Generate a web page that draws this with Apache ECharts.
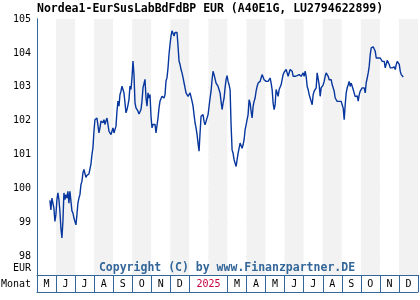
<!DOCTYPE html>
<html><head><meta charset="utf-8">
<script src="https://cdn.jsdelivr.net/npm/echarts@6/dist/echarts.min.js"></script>
<style>html,body{margin:0;padding:0;background:#fff}#c{width:420px;height:300px}</style>
</head><body><div id="c"></div>
<script>
const chartTitle = 'Nordea1-EurSusLabBdFdBP EUR (A40E1G, LU2794622899)';
const copyrightText = 'Copyright (C) by www.Finanzpartner.DE';
const currencyLabel = 'EUR';
const xAxisTitle = 'Monat';
// month label row, starting May 2024 (2025 spans Jan+Feb)
const monthLabels = ['M','J','J','A','S','O','N','D','2025','M','A','M','J','J','A','S','O','N','D'];
const monthSpans  = [1,1,1,1,1,1,1,1,2,1,1,1,1,1,1,1,1,1,1];
const yTicks = [98,99,100,101,102,103,104,105];
const yMin = 97.45, yMax = 105;
// price samples, evenly spaced in time from startDate to endDate
const startDate = '2024-05-22';
const endDate = '2025-12-08';
const prices = [
99.65,99.37,99.72,99.77,99.42,99.03,99.23,99.67,99.87,99.67,
99.33,98.83,98.54,99.03,99.87,99.67,99.82,99.72,99.92,99.57,
99.92,99.87,99.34,99.28,99.13,99.03,98.93,99.23,99.57,99.72,
99.82,100.11,100.21,100.46,100.56,100.51,100.33,100.39,100.43,100.43,
100.46,100.72,101.00,101.20,101.69,102.03,102.08,102.08,102.13,101.64,
101.79,101.99,102.03,101.94,102.03,101.89,101.99,102.08,101.89,101.69,
101.74,101.59,101.69,101.79,101.64,101.59,101.84,102.28,102.58,102.43,
102.77,102.87,103.02,102.92,102.82,102.53,102.23,102.33,102.46,102.63,
103.02,102.92,103.27,103.76,103.36,102.53,102.38,102.33,102.28,102.20,
102.18,102.33,102.58,102.97,103.02,103.22,102.67,102.43,102.82,102.67,
102.77,102.13,101.79,101.89,101.94,101.89,101.64,101.59,102.08,102.38,
102.58,102.63,102.72,102.75,102.67,102.77,103.17,103.27,103.56,103.96,
104.25,104.50,104.65,104.60,104.50,104.60,104.60,104.60,104.20,103.76,
103.66,103.51,103.41,103.27,103.12,102.97,102.82,102.77,102.72,102.75,
102.82,102.87,102.58,102.43,102.18,101.94,101.79,101.59,101.34,101.10,
101.64,102.13,102.08,102.18,101.98,101.88,101.98,102.03,102.18,102.42,
102.67,102.87,103.21,103.46,103.36,103.41,103.11,103.16,103.01,103.06,
102.82,102.57,102.33,102.52,102.67,102.97,103.21,103.33,103.16,103.06,
102.92,101.88,101.14,101.04,100.85,100.75,100.65,100.85,101.04,101.09,
101.34,101.34,101.19,101.29,101.44,101.73,101.88,102.03,102.18,102.62,
102.52,102.28,102.08,102.42,102.57,102.67,102.87,103.01,103.11,103.16,
103.16,103.26,103.36,103.31,103.21,103.26,103.16,103.21,103.16,103.21,
103.26,103.11,102.92,102.52,102.33,102.47,102.92,102.97,102.72,102.92,
102.87,103.06,103.21,103.36,103.43,103.46,103.51,103.41,103.31,103.36,
103.51,103.56,103.46,103.31,103.36,103.31,103.29,103.33,103.31,103.36,
103.41,103.31,103.36,103.41,103.31,103.46,103.31,103.01,102.92,102.77,
102.67,102.57,102.47,102.77,102.87,102.82,102.97,103.41,103.46,103.06,
102.72,102.97,103.01,103.06,103.16,103.31,103.41,103.36,103.31,103.21,
103.16,103.21,103.06,102.97,102.87,102.67,102.67,102.57,102.62,102.57,
102.52,102.57,102.47,102.37,102.03,102.47,102.82,102.97,103.06,103.16,
103.01,103.11,103.16,102.92,102.87,
102.71,102.68,102.73,102.58,102.77,102.87,102.92,102.97,103.02,102.97,
102.82,103.12,103.26,103.41,103.61,103.95,104.15,104.12,104.18,104.15,
104.05,103.85,103.88,103.85,103.88,103.85,103.80,103.75,103.71,103.75,
103.56,103.61,103.78,103.73,103.66,103.56,103.59,103.56,103.61,103.59,
103.51,103.66,103.75,103.78,103.66,103.46,103.36,103.31,103.29
];

// axis unit: months since 2024-05-01
function monthPos(s){
  const [y,m,d] = s.split('-').map(Number);
  const dim = new Date(y, m, 0).getDate();
  return (y-2024)*12 + (m-5) + (d-1)/dim;
}
const t0 = monthPos(startDate), t1 = monthPos(endDate);
const seriesData = prices.map((v,i)=>[t0 + i*(t1-t0)/(prices.length-1), v]);

const boundaries = [0];
const centers = [];
const labelMap = {};
monthSpans.forEach((s,i)=>{
  const a = boundaries[boundaries.length-1];
  const c = a + s/2;
  centers.push(c);
  labelMap[c] = monthLabels[i];
  boundaries.push(a + s);
});
const xMax = boundaries[boundaries.length-1];

const FONT = 'DejaVu Sans Mono';
const FRAME = '#336699';

const chart = echarts.init(document.getElementById('c'), null, {renderer:'canvas'});
chart.setOption({
  animation: false,
  backgroundColor: '#fff',
  grid: {left: 37, right: 2, top: 19, bottom: 25, containLabel: false},
  xAxis: [{
    type: 'value', min: 0, max: xMax, position: 'bottom',
    axisLine: {show: true, lineStyle: {color: FRAME, width: 1}},
    axisTick: {show: true, customValues: boundaries, length: 17, inside: false,
               lineStyle: {color: FRAME, width: 1}},
    axisLabel: {show: true, customValues: centers, margin: 4,
      fontFamily: FONT, fontSize: 10, color: '#000',
      formatter: v => { const l = labelMap[v]; return /^\d{4}$/.test(l) ? '{y|'+l+'}' : l; },
      rich: {y: {color: '#c8003c', fontFamily: FONT, fontSize: 10}}},
    splitLine: {show: false}
  },{
    type: 'value', min: 0, max: xMax, interval: 1, position: 'bottom', offset: 17,
    axisLine: {show: true, lineStyle: {color: FRAME, width: 1}},
    axisTick: {show: false}, axisLabel: {show: false}, splitLine: {show: false},
    splitArea: {show: true, areaStyle: {color: ['#ffffff', '#f2f2f2']}}
  }],
  yAxis: [{
    type: 'value', min: yMin, max: yMax, position: 'left',
    axisLine: {show: true, lineStyle: {color: FRAME, width: 1}},
    axisTick: {show: false, customValues: yTicks},
    axisLabel: {show: true, customValues: yTicks, margin: 6, fontFamily: FONT, fontSize: 10, color: '#000'},
    splitLine: {show: true, lineStyle: {color: '#cccccc', type: [5,4], width: 1}}
  },{
    type: 'value', min: yMin, max: yMax, position: 'right',
    axisLine: {show: true, lineStyle: {color: FRAME, width: 1}},
    axisTick: {show: false}, axisLabel: {show: false}, splitLine: {show: false}
  }],
  graphic: [
    {type: 'text', x: 37, y: 9.5, style: {text: chartTitle, fill: '#000', font: 'bold 11.5px "DejaVu Sans Mono"', textVerticalAlign: 'middle', verticalAlign: 'middle'}},
    {type: 'text', x: 31, y: 268, style: {text: currencyLabel, fill: '#000', font: '10px "DejaVu Sans Mono"', align: 'right', textAlign: 'right', verticalAlign: 'middle', textVerticalAlign: 'middle'}},
    {type: 'text', x: 1, y: 284, style: {text: xAxisTitle, fill: '#000', font: '10px "DejaVu Sans Mono"', verticalAlign: 'middle', textVerticalAlign: 'middle'}},
    {type: 'text', x: 227, y: 268, z: 10, style: {text: copyrightText, fill: FRAME, font: 'bold 11.5px "DejaVu Sans Mono"', align: 'center', textAlign: 'center', verticalAlign: 'middle', textVerticalAlign: 'middle'}}
  ],
  series: [{
    type: 'line', xAxisIndex: 0, yAxisIndex: 0, data: seriesData,
    showSymbol: false, symbol: 'none', smooth: false,
    lineStyle: {color: '#07379e', width: 1.4}
  }]
});
</script></body></html>
